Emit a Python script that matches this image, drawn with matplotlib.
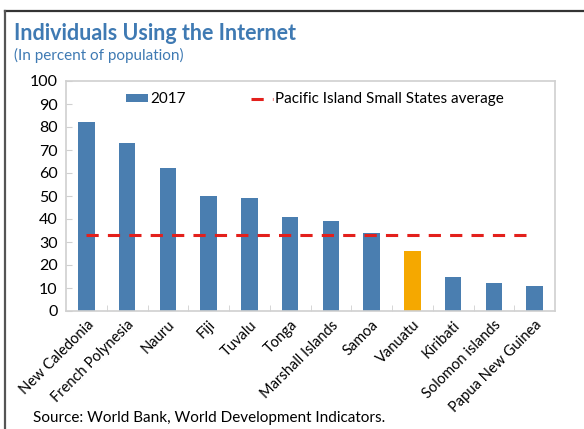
import matplotlib
matplotlib.use("Agg")
import matplotlib.pyplot as plt
from matplotlib.patches import Patch
from matplotlib.lines import Line2D

countries = ["New Caledonia", "French Polynesia", "Nauru", "Fiji", "Tuvalu", "Tonga",
             "Marshall Islands", "Samoa", "Vanuatu", "Kiribati", "Solomon islands",
             "Papua New Guinea"]
usage_2017 = [82, 73, 62, 50, 49, 41, 39, 34, 26, 15, 12, 11]
pss_average = 33
highlight = "Vanuatu"
y_ticks = list(range(0, 101, 10))

BLUE = "#4A7EB0"
ORANGE = "#F5A800"
RED = "#E3201C"
TITLE_BLUE = "#3F7AB3"
GRID_GRAY = "#D0D0D0"

plt.rcParams["font.family"] = ["Lato", "DejaVu Sans"]

W, H = 584, 429
fig = plt.figure(figsize=(W / 100, H / 100), dpi=100)

# outer frame: top and left edges
fig.add_artist(Line2D([5 / W, 1], [1 - 11 / H, 1 - 11 / H], color="#333333", lw=1.6,
                      transform=fig.transFigure))
fig.add_artist(Line2D([5 / W, 5 / W], [0, 1 - 11 / H], color="#555555", lw=1.6,
                      transform=fig.transFigure))

left, right, top, bottom = 66, 555, 81, 311
ax = fig.add_axes([left / W, 1 - bottom / H, (right - left) / W, (bottom - top) / H])

x = list(range(len(countries)))
colors = [ORANGE if c == highlight else BLUE for c in countries]
ax.bar(x, usage_2017, width=0.4, color=colors, zorder=2)
ax.plot(x, [pss_average] * len(x), color=RED, lw=2.2, dashes=(4, 3), zorder=3)

ax.set_xlim(-0.5, len(x) - 0.5)
ax.set_ylim(0, 100)
ax.set_yticks(y_ticks)
ax.tick_params(axis="y", direction="in", length=4, color=GRID_GRAY, labelsize=11.5,
               pad=6, labelcolor="black")
ax.set_xticks(x)
ax.set_xticklabels(countries, rotation=45, ha="right", rotation_mode="anchor",
                   fontsize=10.5)
ax.tick_params(axis="x", length=0, pad=5)
ax.set_xticks([i + 0.5 for i in x[:-1]], minor=True)
ax.tick_params(axis="x", which="minor", direction="in", length=4, color=GRID_GRAY)
for s in ax.spines.values():
    s.set_color(GRID_GRAY)
    s.set_linewidth(1.2)

handles = [Patch(facecolor=BLUE, edgecolor="none"),
           Line2D([0], [0], color=RED, lw=2.2, dashes=(4, 3))]
ax.legend(handles, ["2017", "Pacific Island Small States average"], ncol=2,
          frameon=False, loc="upper left", bbox_to_anchor=(0.094, 1.01),
          fontsize=11, handlelength=1.45, handleheight=0.4, handletextpad=0.15,
          columnspacing=4.25, borderpad=0.4)

fig.text(14 / W, 1 - 33 / H, "Individuals Using the Internet", color=TITLE_BLUE,
         fontsize=15.5, fontweight="bold", va="center", ha="left")
fig.text(14 / W, 1 - 55 / H, "(In percent of population)", color=TITLE_BLUE,
         fontsize=11, va="center", ha="left")
fig.text(33 / W, 1 - 418 / H, "Source: World Bank, World Development Indicators.",
         color="black", fontsize=11, va="center", ha="left")

fig.savefig("out.png", dpi=100)
